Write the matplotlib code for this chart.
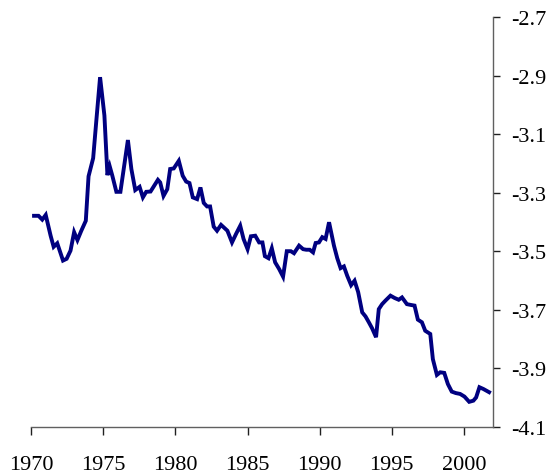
import matplotlib
matplotlib.use("Agg")
import matplotlib.pyplot as plt

years = [1970.19, 1970.5, 1970.76, 1971.0, 1971.34, 1971.55, 1971.8, 1972.2, 1972.45, 1972.72,
         1972.97, 1973.2, 1973.46, 1973.78, 1973.97, 1974.29, 1974.52, 1974.77, 1975.07, 1975.28,
         1975.44, 1975.62, 1975.9, 1976.18, 1976.7, 1976.94, 1977.21, 1977.51, 1977.74, 1977.97,
         1978.27, 1978.78, 1978.94, 1979.17, 1979.43, 1979.63, 1979.88, 1980.23, 1980.5, 1980.74,
         1980.97, 1981.2, 1981.5, 1981.73, 1981.96, 1982.19, 1982.4, 1982.65, 1982.88, 1983.16,
         1983.6, 1983.92, 1984.2, 1984.49, 1984.72, 1985.0, 1985.23, 1985.53, 1985.8, 1986.03,
         1986.2, 1986.45, 1986.68, 1986.91, 1987.19, 1987.46, 1987.72, 1988.0, 1988.22, 1988.57,
         1988.85, 1989.07, 1989.31, 1989.54, 1989.72, 1989.95, 1990.18, 1990.41, 1990.65, 1990.99,
         1991.22, 1991.45, 1991.68, 1991.91, 1992.18, 1992.42, 1992.67, 1992.95, 1993.18, 1993.41,
         1993.64, 1993.91, 1994.1, 1994.33, 1994.56, 1994.91, 1995.2, 1995.48, 1995.71, 1996.05,
         1996.35, 1996.58, 1996.81, 1997.09, 1997.32, 1997.67, 1997.85, 1998.13, 1998.36, 1998.64,
         1998.89, 1999.16, 1999.44, 1999.74, 2000.04, 2000.37, 2000.66, 2000.85, 2001.08, 2001.35,
         2001.75]
values = [-3.379, -3.379, -3.392, -3.376, -3.447, -3.485, -3.473, -3.532, -3.526, -3.498,
          -3.435, -3.462, -3.431, -3.396, -3.244, -3.182, -3.048, -2.905, -3.036, -3.240,
          -3.210, -3.242, -3.297, -3.297, -3.120, -3.219, -3.291, -3.280, -3.316, -3.297,
          -3.296, -3.256, -3.265, -3.311, -3.288, -3.219, -3.217, -3.191, -3.242, -3.262,
          -3.267, -3.316, -3.322, -3.282, -3.335, -3.347, -3.347, -3.416, -3.430, -3.410,
          -3.430, -3.470, -3.441, -3.413, -3.458, -3.493, -3.449, -3.447, -3.470, -3.470,
          -3.517, -3.524, -3.490, -3.538, -3.561, -3.587, -3.500, -3.500, -3.507, -3.481,
          -3.493, -3.495, -3.495, -3.504, -3.472, -3.470, -3.452, -3.458, -3.401, -3.481,
          -3.524, -3.558, -3.552, -3.584, -3.616, -3.601, -3.640, -3.709, -3.723, -3.743,
          -3.764, -3.794, -3.698, -3.681, -3.669, -3.652, -3.660, -3.666, -3.658, -3.681,
          -3.684, -3.686, -3.734, -3.743, -3.772, -3.783, -3.869, -3.923, -3.914, -3.916,
          -3.954, -3.980, -3.985, -3.988, -3.997, -4.015, -4.011, -4.000, -3.965, -3.971,
          -3.982]

x_ticks = [1970, 1975, 1980, 1985, 1990, 1995, 2000]
y_ticks = [-4.1, -3.9, -3.7, -3.5, -3.3, -3.1, -2.9, -2.7]
y_labels = ["-4.1", "-3.9", "-3.7", "-3.5", "-3.3", "-3.1", "-2.9", "-2.7"]

plt.rcParams['font.family'] = ['Liberation Serif', 'DejaVu Serif']

fig = plt.figure(figsize=(5.52, 4.77), dpi=100)
ax = fig.add_axes([31.3 / 552, (477 - 427.7) / 477, 461.4 / 552, 409.5 / 477])

ax.plot(years, values, color='#000080', linewidth=2.8, solid_joinstyle='miter')

ax.set_xlim(1970, 2002)
ax.set_ylim(-4.1, -2.7)
ax.set_xticks(x_ticks)
ax.set_xticklabels([str(t) for t in x_ticks])
ax.set_yticks(y_ticks)
ax.set_yticklabels(y_labels)

ax.yaxis.tick_right()
for s in ['left', 'top']:
    ax.spines[s].set_visible(False)
for s in ['bottom', 'right']:
    ax.spines[s].set_color('#606060')
    ax.spines[s].set_linewidth(1.0)

ax.tick_params(axis='x', direction='out', length=5.5, width=1.0, color='#202020',
               labelsize=16, pad=15)
ax.tick_params(axis='y', direction='out', length=5.0, width=1.0, color='#202020',
               labelsize=16, pad=8)

fig.savefig('out.png', dpi=100)
